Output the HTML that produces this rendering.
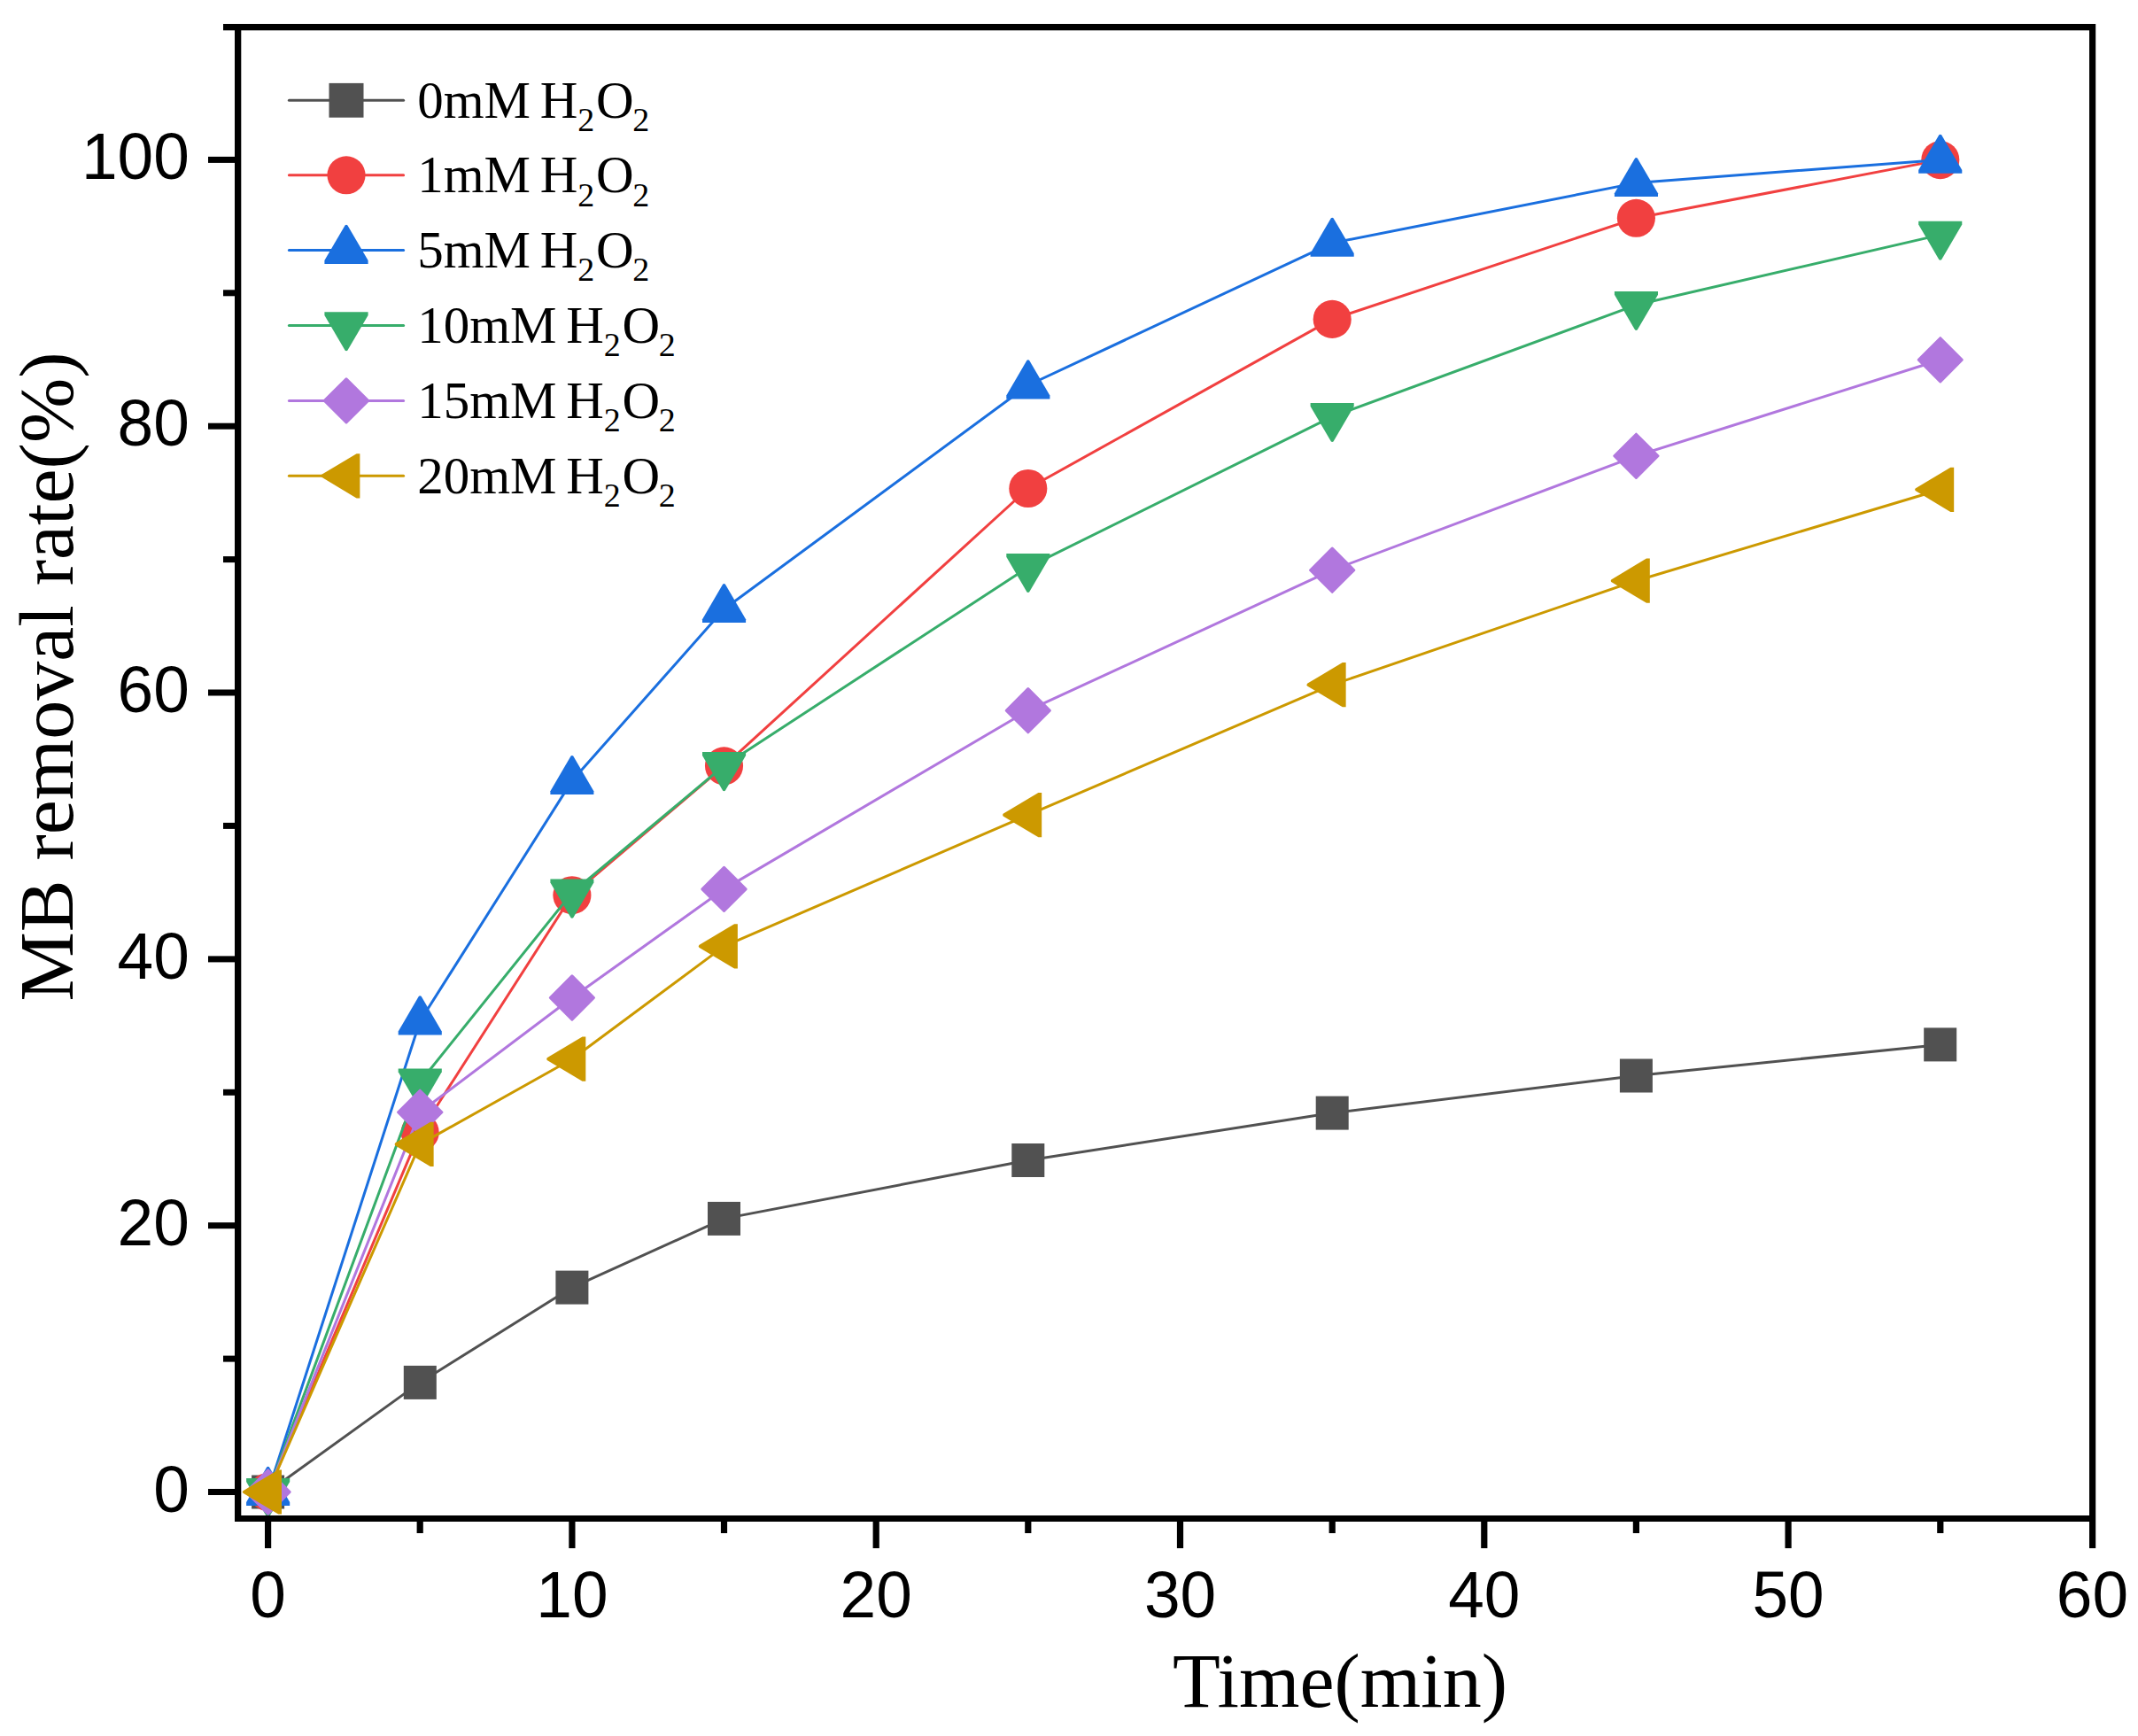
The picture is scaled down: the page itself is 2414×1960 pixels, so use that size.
<!DOCTYPE html>
<html lang="en"><head><meta charset="utf-8"><title>MB removal rate vs Time</title>
<style>
html,body{margin:0;padding:0;background:#fff;}
svg{display:block;}
.ax{font-family:"Liberation Sans",Arial,sans-serif;font-size:74.5px;fill:#000;}
.tt{font-family:"Liberation Serif","Times New Roman",serif;font-size:87.4px;fill:#000;}
.lg{font-family:"Liberation Serif","Times New Roman",serif;font-size:59px;fill:#000;}
.sb{font-size:38px;}
</style></head><body>
<svg width="2414" height="1960" viewBox="0 0 2414 1960">
<rect width="2414" height="1960" fill="#fff"/>
<g id="data">
<polyline points="302.6,1684.5 474.2,1560.9 645.9,1453.6 817.5,1375.9 1160.8,1310.0 1504.2,1256.6 1847.4,1214.5 2190.8,1179.4" fill="none" stroke="#515151" stroke-width="3" stroke-linejoin="round"/>
<rect x="284.1" y="1665.5" width="37" height="38" fill="#515151"/>
<rect x="455.8" y="1541.9" width="37" height="38" fill="#515151"/>
<rect x="627.4" y="1434.6" width="37" height="38" fill="#515151"/>
<rect x="799.0" y="1356.9" width="37" height="38" fill="#515151"/>
<rect x="1142.3" y="1291.0" width="37" height="38" fill="#515151"/>
<rect x="1485.7" y="1237.6" width="37" height="38" fill="#515151"/>
<rect x="1828.9" y="1195.5" width="37" height="38" fill="#515151"/>
<rect x="2172.2" y="1160.4" width="37" height="38" fill="#515151"/>
<polyline points="302.6,1684.5 474.2,1278.4 645.9,1010.7 817.5,864.8 1160.8,551.5 1504.2,360.4 1847.4,246.3 2190.8,180.6" fill="none" stroke="#F14040" stroke-width="3" stroke-linejoin="round"/>
<circle cx="302.6" cy="1684.5" r="21.55" fill="#F14040"/>
<circle cx="474.2" cy="1278.4" r="21.55" fill="#F14040"/>
<circle cx="645.9" cy="1010.7" r="21.55" fill="#F14040"/>
<circle cx="817.5" cy="864.8" r="21.55" fill="#F14040"/>
<circle cx="1160.8" cy="551.5" r="21.55" fill="#F14040"/>
<circle cx="1504.2" cy="360.4" r="21.55" fill="#F14040"/>
<circle cx="1847.4" cy="246.3" r="21.55" fill="#F14040"/>
<circle cx="2190.8" cy="180.6" r="21.55" fill="#F14040"/>
<polyline points="302.6,1684.5 474.2,1153.0 645.9,881.6 817.5,687.7 1160.8,435.0 1504.2,274.4 1847.4,206.6 2190.8,180.4" fill="none" stroke="#1A6FDF" stroke-width="3" stroke-linejoin="round"/>
<polygon points="301.3,1656.3 302.6,1655.8 303.9,1656.3 327.2,1696.1 327.2,1699.9 278.1,1699.9 278.1,1696.1" fill="#1A6FDF"/>
<polygon points="472.9,1124.8 474.2,1124.3 475.6,1124.8 498.8,1164.6 498.8,1168.4 449.7,1168.4 449.7,1164.6" fill="#1A6FDF"/>
<polygon points="644.6,853.4 645.9,852.9 647.2,853.4 670.4,893.2 670.4,897.0 621.4,897.0 621.4,893.2" fill="#1A6FDF"/>
<polygon points="816.2,659.5 817.5,659.0 818.8,659.5 842.1,699.3 842.1,703.1 793.0,703.1 793.0,699.3" fill="#1A6FDF"/>
<polygon points="1159.5,406.8 1160.8,406.3 1162.1,406.8 1185.4,446.6 1185.4,450.4 1136.3,450.4 1136.3,446.6" fill="#1A6FDF"/>
<polygon points="1502.9,246.2 1504.2,245.7 1505.5,246.2 1528.7,286.0 1528.7,289.8 1479.6,289.8 1479.6,286.0" fill="#1A6FDF"/>
<polygon points="1846.1,178.4 1847.4,177.9 1848.7,178.4 1872.0,218.2 1872.0,222.0 1822.9,222.0 1822.9,218.2" fill="#1A6FDF"/>
<polygon points="2189.4,152.2 2190.8,151.7 2192.1,152.2 2215.3,192.0 2215.3,195.8 2166.2,195.8 2166.2,192.0" fill="#1A6FDF"/>
<polyline points="302.6,1684.5 474.2,1221.8 645.9,1008.0 817.5,864.5 1160.8,640.4 1504.2,470.4 1847.4,344.3 2190.8,265.1" fill="none" stroke="#37AD6B" stroke-width="3" stroke-linejoin="round"/>
<polygon points="301.3,1712.7 302.6,1713.2 303.9,1712.7 327.2,1672.9 327.2,1669.1 278.1,1669.1 278.1,1672.9" fill="#37AD6B"/>
<polygon points="472.9,1250.0 474.2,1250.5 475.6,1250.0 498.8,1210.2 498.8,1206.4 449.7,1206.4 449.7,1210.2" fill="#37AD6B"/>
<polygon points="644.6,1036.2 645.9,1036.7 647.2,1036.2 670.4,996.4 670.4,992.6 621.4,992.6 621.4,996.4" fill="#37AD6B"/>
<polygon points="816.2,892.7 817.5,893.2 818.8,892.7 842.1,852.9 842.1,849.1 793.0,849.1 793.0,852.9" fill="#37AD6B"/>
<polygon points="1159.5,668.6 1160.8,669.1 1162.1,668.6 1185.4,628.8 1185.4,625.0 1136.3,625.0 1136.3,628.8" fill="#37AD6B"/>
<polygon points="1502.9,498.6 1504.2,499.1 1505.5,498.6 1528.7,458.8 1528.7,455.0 1479.6,455.0 1479.6,458.8" fill="#37AD6B"/>
<polygon points="1846.1,372.5 1847.4,373.0 1848.7,372.5 1872.0,332.7 1872.0,328.9 1822.9,328.9 1822.9,332.7" fill="#37AD6B"/>
<polygon points="2189.4,293.3 2190.8,293.8 2192.1,293.3 2215.3,253.5 2215.3,249.7 2166.2,249.7 2166.2,253.5" fill="#37AD6B"/>
<polyline points="302.6,1684.5 474.2,1255.8 645.9,1126.5 817.5,1003.9 1160.8,802.2 1504.2,643.7 1847.4,514.8 2190.8,406.3" fill="none" stroke="#B177DE" stroke-width="3" stroke-linejoin="round"/>
<polygon points="302.6,1659.9 327.2,1684.5 302.6,1709.1 278.0,1684.5" fill="#B177DE" stroke="#B177DE" stroke-width="3" stroke-linejoin="round"/>
<polygon points="474.2,1231.2 498.9,1255.8 474.2,1280.4 449.6,1255.8" fill="#B177DE" stroke="#B177DE" stroke-width="3" stroke-linejoin="round"/>
<polygon points="645.9,1101.9 670.5,1126.5 645.9,1151.1 621.3,1126.5" fill="#B177DE" stroke="#B177DE" stroke-width="3" stroke-linejoin="round"/>
<polygon points="817.5,979.3 842.1,1003.9 817.5,1028.5 792.9,1003.9" fill="#B177DE" stroke="#B177DE" stroke-width="3" stroke-linejoin="round"/>
<polygon points="1160.8,777.6 1185.4,802.2 1160.8,826.8 1136.2,802.2" fill="#B177DE" stroke="#B177DE" stroke-width="3" stroke-linejoin="round"/>
<polygon points="1504.2,619.1 1528.8,643.7 1504.2,668.3 1479.6,643.7" fill="#B177DE" stroke="#B177DE" stroke-width="3" stroke-linejoin="round"/>
<polygon points="1847.4,490.2 1872.0,514.8 1847.4,539.4 1822.8,514.8" fill="#B177DE" stroke="#B177DE" stroke-width="3" stroke-linejoin="round"/>
<polygon points="2190.8,381.7 2215.3,406.3 2190.8,430.9 2166.2,406.3" fill="#B177DE" stroke="#B177DE" stroke-width="3" stroke-linejoin="round"/>
<polyline points="302.6,1684.5 474.2,1291.9 645.9,1195.7 817.5,1068.4 1160.8,920.1 1504.2,773.2 1847.4,655.7 2190.8,552.8" fill="none" stroke="#CC9900" stroke-width="3" stroke-linejoin="round"/>
<polygon points="274.4,1683.2 273.9,1684.5 274.4,1685.8 314.2,1709.6 318.0,1709.6 318.0,1659.4 314.2,1659.4" fill="#CC9900"/>
<polygon points="446.1,1290.6 445.6,1291.9 446.1,1293.3 485.9,1317.0 489.6,1317.0 489.6,1266.8 485.9,1266.8" fill="#CC9900"/>
<polygon points="617.7,1194.3 617.2,1195.7 617.7,1197.0 657.5,1220.8 661.3,1220.8 661.3,1170.6 657.5,1170.6" fill="#CC9900"/>
<polygon points="789.3,1067.1 788.8,1068.4 789.3,1069.7 829.1,1093.5 832.9,1093.5 832.9,1043.3 829.1,1043.3" fill="#CC9900"/>
<polygon points="1132.6,918.8 1132.1,920.1 1132.6,921.4 1172.4,945.2 1176.2,945.2 1176.2,895.0 1172.4,895.0" fill="#CC9900"/>
<polygon points="1476.0,771.8 1475.5,773.2 1476.0,774.5 1515.8,798.3 1519.6,798.3 1519.6,748.1 1515.8,748.1" fill="#CC9900"/>
<polygon points="1819.2,654.4 1818.7,655.7 1819.2,657.0 1859.0,680.8 1862.8,680.8 1862.8,630.6 1859.0,630.6" fill="#CC9900"/>
<polygon points="2162.6,551.5 2162.1,552.8 2162.6,554.1 2202.3,577.9 2206.2,577.9 2206.2,527.7 2202.3,527.7" fill="#CC9900"/>
</g>
<g id="frame" fill="#000">
<rect x="252" y="27" width="2114" height="7.3"/>
<rect x="265" y="27" width="7.3" height="1691"/>
<rect x="265" y="1711" width="2101" height="7"/>
<rect x="2359" y="27" width="7.2" height="1721"/>
<rect x="235" y="1681.0" width="31" height="7"/>
<rect x="252" y="1530.6" width="14" height="7"/>
<rect x="235" y="1380.2" width="31" height="7"/>
<rect x="252" y="1229.8" width="14" height="7"/>
<rect x="235" y="1079.4" width="31" height="7"/>
<rect x="252" y="928.9" width="14" height="7"/>
<rect x="235" y="778.5" width="31" height="7"/>
<rect x="252" y="628.1" width="14" height="7"/>
<rect x="235" y="477.7" width="31" height="7"/>
<rect x="252" y="327.3" width="14" height="7"/>
<rect x="235" y="176.9" width="31" height="7"/>
<rect x="299.0" y="1717" width="7.2" height="31"/>
<rect x="470.6" y="1717" width="7.2" height="14"/>
<rect x="642.3" y="1717" width="7.2" height="31"/>
<rect x="813.9" y="1717" width="7.2" height="14"/>
<rect x="985.6" y="1717" width="7.2" height="31"/>
<rect x="1157.2" y="1717" width="7.2" height="14"/>
<rect x="1328.9" y="1717" width="7.2" height="31"/>
<rect x="1500.6" y="1717" width="7.2" height="14"/>
<rect x="1672.2" y="1717" width="7.2" height="31"/>
<rect x="1843.8" y="1717" width="7.2" height="14"/>
<rect x="2015.5" y="1717" width="7.2" height="31"/>
<rect x="2187.2" y="1717" width="7.2" height="14"/>
</g>
<g class="ax">
<text transform="translate(213.8,1706.5) scale(0.98,1)" text-anchor="end">0</text>
<text transform="translate(213.8,1405.7) scale(0.98,1)" text-anchor="end">20</text>
<text transform="translate(213.8,1104.9) scale(0.98,1)" text-anchor="end">40</text>
<text transform="translate(213.8,804.0) scale(0.98,1)" text-anchor="end">60</text>
<text transform="translate(213.8,503.2) scale(0.98,1)" text-anchor="end">80</text>
<text transform="translate(213.8,202.4) scale(0.98,1)" text-anchor="end">100</text>
<text transform="translate(302.6,1825.8) scale(0.98,1)" text-anchor="middle">0</text>
<text transform="translate(645.9,1825.8) scale(0.98,1)" text-anchor="middle">10</text>
<text transform="translate(989.2,1825.8) scale(0.98,1)" text-anchor="middle">20</text>
<text transform="translate(1332.5,1825.8) scale(0.98,1)" text-anchor="middle">30</text>
<text transform="translate(1675.8,1825.8) scale(0.98,1)" text-anchor="middle">40</text>
<text transform="translate(2019.1,1825.8) scale(0.98,1)" text-anchor="middle">50</text>
<text transform="translate(2362.4,1825.8) scale(0.98,1)" text-anchor="middle">60</text>
</g>
<text class="tt" transform="translate(1513,1927) scale(1.007,1)" text-anchor="middle">Time(min)</text>
<text class="tt" transform="translate(81.6,764) rotate(-90) scale(1.007,1)" text-anchor="middle">MB removal rate(%)</text>
<g id="legend">
<line x1="326.4" y1="113.3" x2="455.6" y2="113.3" stroke="#515151" stroke-width="3" stroke-linecap="round"/>
<rect x="371.5" y="93.9" width="39" height="38.8" fill="#515151"/>
<text class="lg" x="471.2" y="132.8">0mM <tspan dx="-4.15">H</tspan><tspan class="sb" dy="15.3" dx="0">2</tspan><tspan dy="-15.3" dx="1.8">O</tspan><tspan class="sb" dy="15.3" dx="-1.5">2</tspan></text>
<line x1="326.4" y1="197.8" x2="455.6" y2="197.8" stroke="#F14040" stroke-width="3" stroke-linecap="round"/>
<circle cx="391.0" cy="197.8" r="21.55" fill="#F14040"/>
<text class="lg" x="471.2" y="217.3">1mM <tspan dx="-4.15">H</tspan><tspan class="sb" dy="15.3" dx="0">2</tspan><tspan dy="-15.3" dx="1.8">O</tspan><tspan class="sb" dy="15.3" dx="-1.5">2</tspan></text>
<line x1="326.4" y1="282.5" x2="455.6" y2="282.5" stroke="#1A6FDF" stroke-width="3" stroke-linecap="round"/>
<polygon points="389.7,254.3 391.0,253.8 392.3,254.3 415.6,294.1 415.6,297.9 366.4,297.9 366.4,294.1" fill="#1A6FDF"/>
<text class="lg" x="471.2" y="302.0">5mM <tspan dx="-4.15">H</tspan><tspan class="sb" dy="15.3" dx="0">2</tspan><tspan dy="-15.3" dx="1.8">O</tspan><tspan class="sb" dy="15.3" dx="-1.5">2</tspan></text>
<line x1="326.4" y1="367.6" x2="455.6" y2="367.6" stroke="#37AD6B" stroke-width="3" stroke-linecap="round"/>
<polygon points="389.7,395.8 391.0,396.3 392.3,395.8 415.6,356.0 415.6,352.2 366.4,352.2 366.4,356.0" fill="#37AD6B"/>
<text class="lg" x="471.2" y="387.1">10mM <tspan dx="-4.15">H</tspan><tspan class="sb" dy="15.3" dx="0">2</tspan><tspan dy="-15.3" dx="1.8">O</tspan><tspan class="sb" dy="15.3" dx="-1.5">2</tspan></text>
<line x1="326.4" y1="452.4" x2="455.6" y2="452.4" stroke="#B177DE" stroke-width="3" stroke-linecap="round"/>
<polygon points="391.0,427.8 415.6,452.4 391.0,477.0 366.4,452.4" fill="#B177DE" stroke="#B177DE" stroke-width="3" stroke-linejoin="round"/>
<text class="lg" x="471.2" y="471.9">15mM <tspan dx="-4.15">H</tspan><tspan class="sb" dy="15.3" dx="0">2</tspan><tspan dy="-15.3" dx="1.8">O</tspan><tspan class="sb" dy="15.3" dx="-1.5">2</tspan></text>
<line x1="326.4" y1="537.3" x2="455.6" y2="537.3" stroke="#CC9900" stroke-width="3" stroke-linecap="round"/>
<polygon points="362.8,536.0 362.3,537.3 362.8,538.6 402.6,562.4 406.4,562.4 406.4,512.2 402.6,512.2" fill="#CC9900"/>
<text class="lg" x="471.2" y="556.8">20mM <tspan dx="-4.15">H</tspan><tspan class="sb" dy="15.3" dx="0">2</tspan><tspan dy="-15.3" dx="1.8">O</tspan><tspan class="sb" dy="15.3" dx="-1.5">2</tspan></text>
</g>
</svg></body></html>
